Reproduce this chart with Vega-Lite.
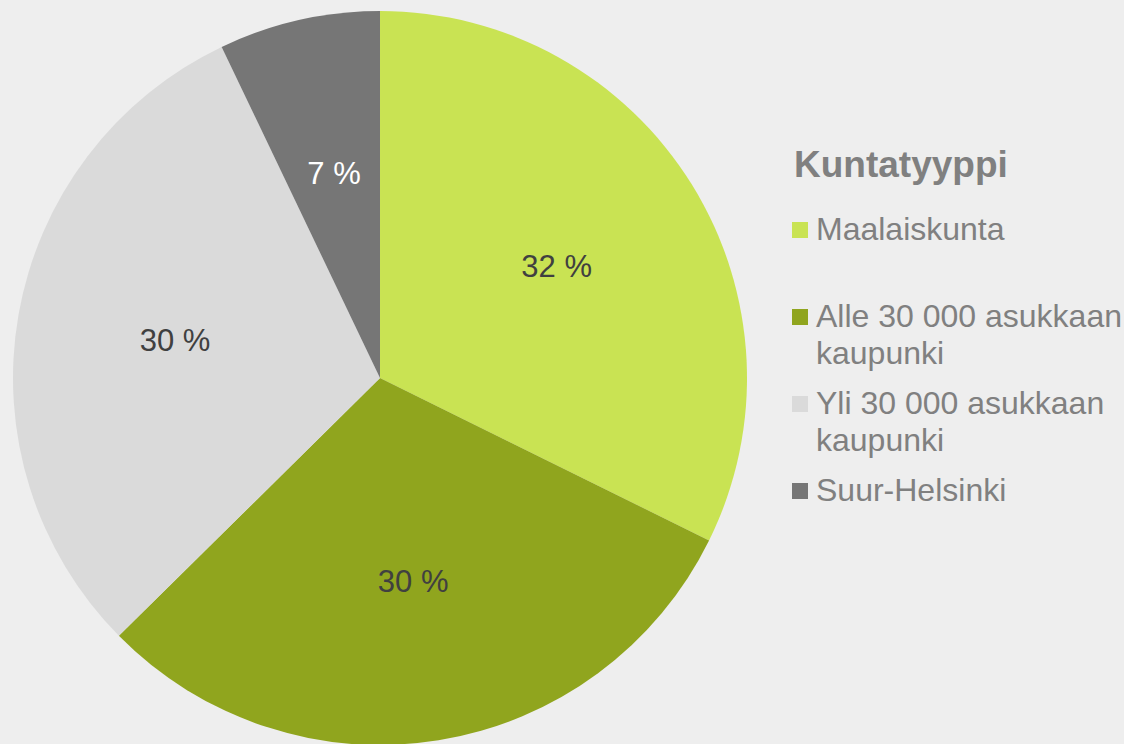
{
  "$schema": "https://vega.github.io/schema/vega-lite/v6.json",
  "width": 760,
  "height": 756,
  "autosize": {"type": "none"},
  "padding": {"left": 0, "top": 0, "right": 364, "bottom": 0},
  "background": "#eeeeee",
  "config": {"view": {"stroke": null}, "font": "Liberation Sans"},
  "data": {
    "values": [
      {"tyyppi": "Maalaiskunta", "osuus": 32.3, "jarjestys": 1, "label": "32 %"},
      {"tyyppi": "Alle 30 000 asukkaan kaupunki", "osuus": 30.3, "jarjestys": 2, "label": "30 %"},
      {"tyyppi": "Yli 30 000 asukkaan kaupunki", "osuus": 30.3, "jarjestys": 3, "label": "30 %"},
      {"tyyppi": "Suur-Helsinki", "osuus": 7.1, "jarjestys": 4, "label": "7 %"}
    ]
  },
  "encoding": {
    "theta": {"field": "osuus", "type": "quantitative", "stack": true},
    "order": {"field": "jarjestys", "type": "quantitative"}
  },
  "layer": [
    {
      "mark": {"type": "arc", "outerRadius": 367},
      "encoding": {
        "color": {
          "field": "tyyppi",
          "type": "nominal",
          "scale": {
            "domain": ["Maalaiskunta", "Alle 30 000 asukkaan kaupunki", "Yli 30 000 asukkaan kaupunki", "Suur-Helsinki"],
            "range": ["#c9e353", "#90a51e", "#dadada", "#767676"]
          },
          "legend": {
            "title": "Kuntatyyppi",
            "orient": "none",
            "legendX": 784,
            "legendY": 148,
            "padding": 0,
            "titleFont": "Liberation Sans",
            "titleFontSize": 37,
            "titleFontWeight": "bold",
            "titleColor": "#808080",
            "titlePadding": 29,
            "titleLimit": 400,
            "labelFont": "Liberation Sans",
            "labelFontSize": 32,
            "labelColor": "#808080",
            "labelLimit": 400,
            "labelOffset": 0,
            "labelBaseline": "alphabetic",
            "labelExpr": "datum.label == 'Maalaiskunta' ? ['Maalaiskunta', ' '] : split(replace(datum.label, 'asukkaan ', 'asukkaan|'), '|')",
            "symbolType": "square",
            "symbolSize": 256,
            "symbolStrokeWidth": 0,
            "symbolOpacity": 1,
            "rowPadding": 18,
            "encode": {
              "title": {"update": {"dx": {"value": 10}}},
              "labels": {"update": {"lineHeight": {"value": 37}, "dy": {"value": 10}}}
            }
          }
        }
      }
    },
    {
      "mark": {"type": "text", "radius": 208, "fontSize": 31, "font": "Liberation Sans"},
      "encoding": {
        "text": {"field": "label", "type": "nominal"},
        "color": {
          "condition": {"test": "datum.tyyppi === 'Suur-Helsinki'", "value": "#ffffff"},
          "value": "#404040"
        }
      }
    }
  ]
}
